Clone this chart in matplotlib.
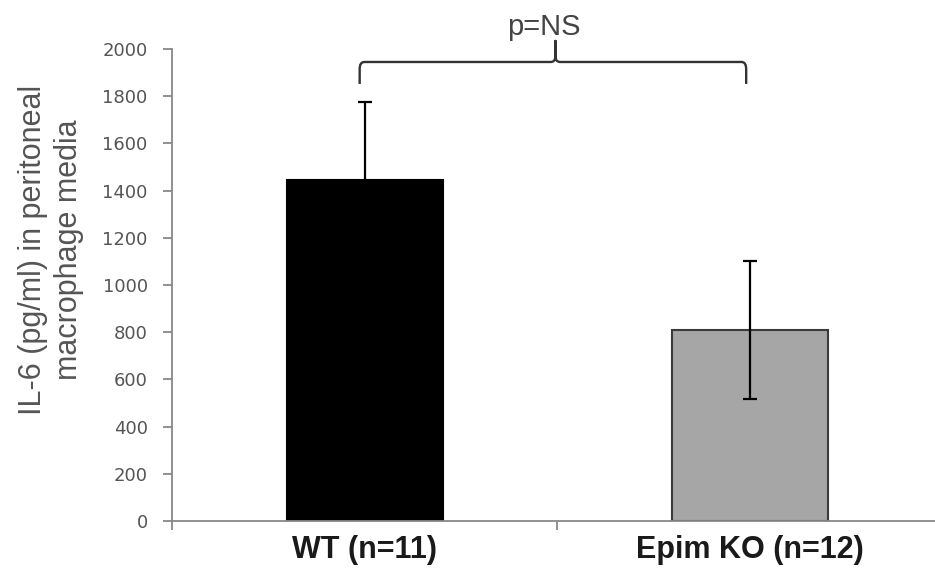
import matplotlib
matplotlib.use("Agg")
import matplotlib.pyplot as plt
from matplotlib.path import Path
from matplotlib.patches import PathPatch
import numpy as np

plt.rcParams['font.family'] = ['Liberation Sans', 'DejaVu Sans']

categories = ["WT (n=11)", "Epim KO (n=12)"]
means = [1445, 810]
errors = [330, 292]
colors = ["#000000", "#a6a6a6"]
edgecolors = ["#000000", "#3a3a3a"]
yticks = list(range(0, 2001, 200))

W, H = 935, 581
fig = plt.figure(figsize=(W / 100, H / 100), dpi=100)
ax = fig.add_axes([172 / W, 60 / H, 1 - 172 / W, (521 - 49) / H])

x = np.arange(len(categories))
ax.bar(x, means, width=0.405, color=colors, edgecolor=edgecolors, linewidth=1.5, zorder=2)
ax.errorbar(x, means, yerr=errors, fmt='none', ecolor="#000000", elinewidth=1.6,
            capsize=4.8, capthick=1.6, zorder=3)

ax.set_xlim(-0.5, 1.48)
ax.set_ylim(0, 2000)
ax.set_yticks(yticks)
ax.set_yticklabels([str(t) for t in yticks], color="#555555", fontsize=13,
                   family=['DejaVu Sans'])
ax.tick_params(axis='y', direction='out', length=6.5, color="#888888", width=1.3, pad=11)

ax.set_xticks([-0.5, 0.5])
ax.set_xticklabels([])
ax.tick_params(axis='x', direction='out', length=6.5, color="#888888", width=1.3)
for xi, lab in zip(x, categories):
    ax.text(xi, -(535 - 521) / 472, lab, transform=ax.get_xaxis_transform(), ha='center',
            va='top', fontsize=22, fontweight='bold', color="#1a1a1a")

for s in ['top', 'right']:
    ax.spines[s].set_visible(False)
for s in ['left', 'bottom']:
    ax.spines[s].set_color("#888888")
    ax.spines[s].set_linewidth(1.3)

fig.text(51 / W, 1 - 250 / H, "IL-6 (pg/ml) in peritoneal\nmacrophage media", rotation=90,
         ha='center', va='center', fontsize=22, color="#555555", linespacing=1.3)

# bracket with rounded corners
x0, x1 = -0.013, 0.99
xm = 0.495
yb, ye, yp = 1945, 1852, 2034
dx, dy = 0.012, 30
verts = [(x0, ye), (x0, yb - dy), (x0, yb), (x0 + dx, yb),
         (xm - 0.012, yb), (xm, yb), (xm, yb + 25), (xm, yp), (xm, yb + 25), (xm, yb), (xm + 0.012, yb),
         (x1 - dx, yb), (x1, yb), (x1, yb - dy), (x1, ye)]
codes = [Path.MOVETO, Path.LINETO, Path.CURVE3, Path.CURVE3,
         Path.LINETO, Path.CURVE3, Path.CURVE3, Path.LINETO, Path.LINETO, Path.CURVE3, Path.CURVE3,
         Path.LINETO, Path.CURVE3, Path.CURVE3, Path.LINETO]
ax.add_patch(PathPatch(Path(verts, codes), facecolor='none', edgecolor="#333333", lw=1.7,
                       clip_on=False, capstyle='butt', joinstyle='round'))
ax.text(0.465, 2059, "p=NS", ha='center', va='baseline', fontsize=21, color="#444444",
        clip_on=False)

fig.savefig("out.png", dpi=100)
